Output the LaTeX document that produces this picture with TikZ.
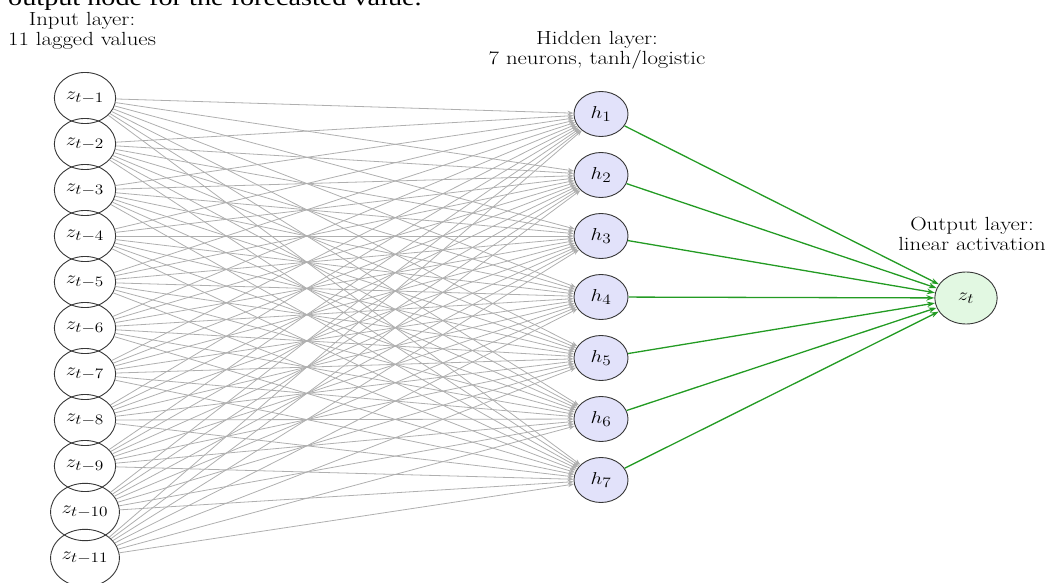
\documentclass[tikz,border=0pt]{standalone}
\usepackage{fontspec}
\newfontfamily\capfont{Liberation Serif}
\usetikzlibrary{arrows.meta}
\definecolor{edgegray}{RGB}{175,175,175}
\definecolor{outgreen}{RGB}{35,155,35}
\definecolor{hidfill}{RGB}{226,226,250}
\definecolor{outfill}{RGB}{226,248,226}
\definecolor{rimgray}{RGB}{55,55,55}
\tikzset{
  labfont/.style={font=\fontsize{19}{20.5}\selectfont},
  neurfont/.style={font=\fontsize{19}{22}\selectfont},
  neuron/.style={circle, draw=rimgray, line width=0.9pt, xscale=1.2, inner sep=6.5pt, neurfont},
  innode/.style={neuron, minimum size=50pt},
  hidnode/.style={neuron, fill=hidfill, minimum size=45pt},
  outnode/.style={neuron, fill=outfill, minimum size=52pt},
  layerlabel/.style={xscale=1.2, inner sep=0pt, align=center, anchor=north, labfont},
  grayedge/.style={draw=edgegray, line width=0.8pt, -{Stealth[length=6pt,width=4.5pt]}},
  greenedge/.style={draw=outgreen, line width=1.3pt, -{Stealth[length=8pt,width=5.5pt]}}
}
\begin{document}
\begin{tikzpicture}[x=1pt,y=-1pt]
\useasboundingbox (0,0) rectangle (1046,583);
\clip (0,0) rectangle (1046,583);
\node[anchor=base west, xscale=1.2, inner sep=0pt, font=\capfont\fontsize{23.5}{25}\selectfont] (cap) at (8,6) {output node for the forecasted value.};
\node[layerlabel] (inlab) at (82,12) {Input layer:\\11 lagged values};
\node[layerlabel] (hidlab) at (597,31) {Hidden layer:\\7 neurons, tanh/logistic};
\node[layerlabel] (outlab) at (972,217) {Output layer:\\linear activation};
\foreach \i in {1,...,11}{
  \node[innode] (i\i) at (85,{98+46*(\i-1)}) {$z_{t-\i}$};
}
\foreach \j in {1,...,7}{
  \node[hidnode] (h\j) at (601,{114+61*(\j-1)}) {$h_{\j}$};
}
\node[outnode] (o) at (966,298) {$z_t$};
\foreach \i in {1,...,11}{
  \foreach \j in {1,...,7}{
    \draw[grayedge] (i\i) -- (h\j);
  }
}
\foreach \j in {1,...,7}{
  \draw[greenedge] (h\j) -- (o);
}
\end{tikzpicture}
\end{document}
